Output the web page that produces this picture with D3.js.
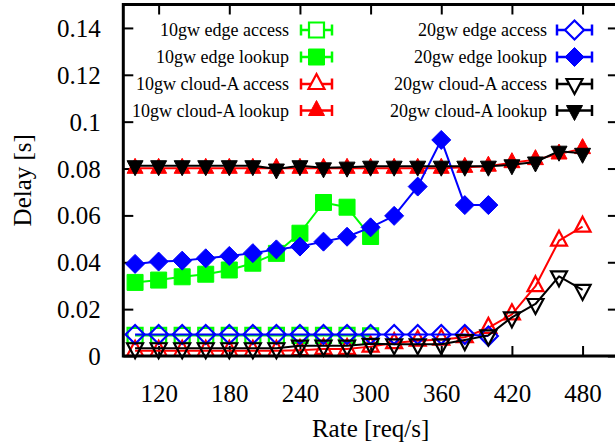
<!DOCTYPE html>
<html><head><meta charset="utf-8">
<script src="https://cdn.jsdelivr.net/npm/d3@7"></script>
<style>
html,body{margin:0;padding:0;background:#fff;}
svg text{font-family:"Liberation Serif","Times New Roman",serif !important;fill:#000;}
</style></head>
<body><svg id="chart" width="615" height="445"></svg>
<script>
// ---- data ----
const rates10edge = [100,120,140,160,180,200,220,240,260,280,300];
const rates20edge = [100,120,140,160,180,200,220,240,260,280,300,320,340,360,380,400];
const ratesCloud  = [100,120,140,160,180,200,220,240,260,280,300,320,340,360,380,400,420,440,460,480];

const edge10Access  = [0.0088,0.0088,0.0088,0.0088,0.0088,0.0088,0.0088,0.0088,0.0088,0.0088,0.0086];
const edge10Lookup  = [0.0314,0.0324,0.0338,0.0349,0.0367,0.0396,0.0438,0.0524,0.0655,0.0635,0.0510];
const cloud10Access = [0.0022,0.0022,0.0022,0.0022,0.0022,0.0022,0.0022,0.0025,0.0030,0.0030,0.0040,0.0055,0.0065,0.0070,0.0080,0.0120,0.0178,0.0298,0.0492,0.0552];
const cloud10Lookup = [0.0801,0.0801,0.0801,0.0801,0.0801,0.0801,0.0801,0.0801,0.0801,0.0801,0.0801,0.0801,0.0801,0.0801,0.0805,0.0810,0.0825,0.0838,0.0862,0.0885];
const edge20Access  = [0.0092,0.0092,0.0092,0.0092,0.0092,0.0092,0.0092,0.0092,0.0092,0.0092,0.0092,0.0092,0.0092,0.0092,0.0092,0.0085];
const edge20Lookup  = [0.0393,0.0403,0.0407,0.0417,0.0427,0.0439,0.0455,0.0467,0.0488,0.0509,0.0549,0.0598,0.0723,0.0922,0.0644,0.0644];
const cloud20Access = [0.0033,0.0033,0.0033,0.0033,0.0033,0.0033,0.0033,0.0044,0.0044,0.0044,0.0052,0.0050,0.0050,0.0050,0.0068,0.0088,0.0165,0.0222,0.0340,0.0282];
const cloud20Lookup = [0.0812,0.0812,0.0812,0.0812,0.0812,0.0812,0.0798,0.0812,0.0803,0.0806,0.0810,0.0810,0.0810,0.0810,0.0810,0.0810,0.0816,0.0828,0.0874,0.0865];

const seriesLabels = ["10gw edge access","10gw edge lookup","10gw cloud-A access","10gw cloud-A lookup",
                      "20gw edge access","20gw edge lookup","20gw cloud-A access","20gw cloud-A lookup"];
const xTicks = [120,180,240,300,360,420,480];
const yTicks = [0,0.02,0.04,0.06,0.08,0.1,0.12,0.14];
const xTitle = "Rate [req/s]";
const yTitle = "Delay [s]";

// ---- series table (built from arrays) ----
const series = [
  {label:seriesLabels[0], xs:rates10edge, ys:edge10Access,  color:"#00ff00", shape:"square",  filled:false},
  {label:seriesLabels[1], xs:rates10edge, ys:edge10Lookup,  color:"#00ff00", shape:"square",  filled:true},
  {label:seriesLabels[2], xs:ratesCloud,  ys:cloud10Access, color:"#ff0000", shape:"triUp",   filled:false},
  {label:seriesLabels[3], xs:ratesCloud,  ys:cloud10Lookup, color:"#ff0000", shape:"triUp",   filled:true},
  {label:seriesLabels[4], xs:rates20edge, ys:edge20Access,  color:"#0000ff", shape:"diamond", filled:false},
  {label:seriesLabels[5], xs:rates20edge, ys:edge20Lookup,  color:"#0000ff", shape:"diamond", filled:true},
  {label:seriesLabels[6], xs:ratesCloud,  ys:cloud20Access, color:"#000000", shape:"triDown", filled:false},
  {label:seriesLabels[7], xs:ratesCloud,  ys:cloud20Lookup, color:"#000000", shape:"triDown", filled:true}
];

// ---- layout ----
const L = 123.3, R = 617.9, T = 4.5, B = 356;
const svg = d3.select("#chart");
const x = d3.scaleLinear().domain([90,510]).range([L,R]);
const y = d3.scaleLinear().domain([0,0.15]).range([B,T]);
const SERIF = '"Liberation Serif","Times New Roman",serif';

function markerPath(shape, filled){
  if(shape==="square"){ const h = filled?8:7.5; return `M${-h},${-h}H${h}V${h}H${-h}Z`; }
  if(shape==="diamond"){ const h = 9.5; return `M0,${-h}L${h},0L0,${h}L${-h},0Z`; }
  if(shape==="triUp"){ return `M0,-10L8,5L-8,5Z`; }
  if(shape==="triDown"){ return `M0,10L8,-5L-8,-5Z`; }
}

// axes (ticks inward, mirrored)
const fmt = d => d===0 ? "0" : String(+d.toFixed(2));
const gx = svg.append("g").attr("transform",`translate(0,${B})`)
  .call(d3.axisBottom(x).tickValues(xTicks).tickSize(-10).tickPadding(28).tickFormat(d3.format("d")));
const gxt = svg.append("g").attr("transform",`translate(0,${T})`)
  .call(d3.axisTop(x).tickValues(xTicks).tickSize(-10).tickFormat(""));
const gy = svg.append("g").attr("transform",`translate(${L},0)`)
  .call(d3.axisLeft(y).tickValues(yTicks).tickSize(-10).tickPadding(22.5).tickFormat(fmt));
const gyr = svg.append("g").attr("transform",`translate(${R},0)`)
  .call(d3.axisRight(y).tickValues(yTicks).tickSize(-10).tickFormat(""));
[gx,gxt,gy,gyr].forEach(g=>{
  g.attr("font-family",SERIF).attr("font-size",25);
  g.select(".domain").remove();
  g.selectAll(".tick line").attr("stroke","#000").attr("stroke-width",2);
  g.selectAll(".tick text").style("font-family",SERIF).style("font-size","25px");
});
gy.selectAll(".tick text").attr("dy","0.34em");

// series
const line = d3.line().x(d=>x(d[0])).y(d=>y(d[1]));
series.forEach(s=>{
  const pts = s.xs.map((v,i)=>[v,s.ys[i]]);
  const g = svg.append("g");
  g.append("path").datum(pts).attr("d",line).attr("fill","none")
    .attr("stroke",s.color).attr("stroke-width",2).attr("stroke-linejoin","round");
  g.selectAll("path.m").data(pts).join("path").attr("class","m")
    .attr("transform",d=>`translate(${x(d[0])},${y(d[1])})`)
    .attr("d",markerPath(s.shape,s.filled))
    .attr("fill",s.filled?s.color:"none")
    .attr("stroke",s.color).attr("stroke-width",s.filled?1:2.2);
});

// frame
svg.append("rect").attr("x",L).attr("y",T).attr("width",R-L).attr("height",B-T)
  .attr("fill","none").attr("stroke","#000").attr("stroke-width",3);

// legend
const rowY = [30,57,84,110.5];
series.forEach((s,i)=>{
  const col = Math.floor(i/4), row = i%4;
  const textRight = col===0 ? 289 : 547;
  const x1 = col===0 ? 301 : 557, x2 = col===0 ? 332 : 592;
  const cy = rowY[row];
  const g = svg.append("g");
  g.append("text").attr("x",textRight).attr("y",cy).attr("dy","0.34em")
    .attr("text-anchor","end").style("font-size","18px").text(s.label);
  g.append("line").attr("x1",x1).attr("x2",x2).attr("y1",cy).attr("y2",cy)
    .attr("stroke",s.color).attr("stroke-width",2.5);
  [x1,x2].forEach(xx=>g.append("line").attr("x1",xx).attr("x2",xx).attr("y1",cy-5.5).attr("y2",cy+5.5)
    .attr("stroke",s.color).attr("stroke-width",2.5));
  g.append("path").attr("transform",`translate(${(x1+x2)/2},${cy})`)
    .attr("d",markerPath(s.shape,s.filled))
    .attr("fill",s.filled?s.color:"#fff")
    .attr("stroke",s.color).attr("stroke-width",s.filled?1:2.2);
});

// axis titles
svg.append("text").attr("x",(L+R)/2).attr("y",437).attr("text-anchor","middle")
  .style("font-size","25px").text(xTitle);
svg.append("text").attr("transform",`translate(31,${(T+B)/2}) rotate(-90)`)
  .attr("text-anchor","middle").style("font-size","25px").text(yTitle);
</script></body></html>
